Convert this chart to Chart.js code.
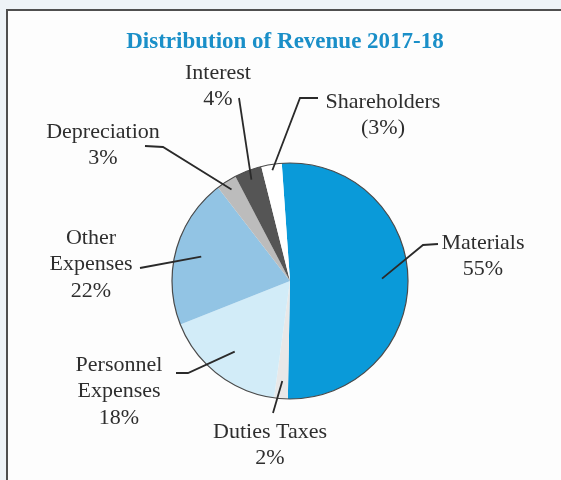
<!DOCTYPE html>
<html>
<head>
<meta charset="utf-8">
<title>Distribution of Revenue 2017-18</title>
<script src="https://cdn.jsdelivr.net/npm/chart.js@4.4.1/dist/chart.umd.min.js"></script>
<style>
  html, body { margin: 0; padding: 0; background: #eef3f7; }
  #wrap { position: relative; width: 561px; height: 480px; }
</style>
</head>
<body>
<div id="wrap"><canvas id="revChart"></canvas></div>
<script>
// share of revenue, clockwise from the top
var categories = ["Materials", "Duties Taxes", "Personnel Expenses", "Other Expenses", "Depreciation", "Interest", "Shareholders"];
var shares = [55, 2, 18, 22, 3, 4, 3];
var pctLabels = ["55%", "2%", "18%", "22%", "3%", "4%", "(3%)"];

var sliceColors = ['#0a9ad9', '#e8e8e8', '#d2ecf8', '#92c4e4', '#bcbcbc', '#555555', '#ffffff'];

var chartTitle = 'Distribution of Revenue 2017-18';

// where each caption sits and how its leader line bends
var callouts = [
  { lines: ["Materials", "55%"],               cx: 483, y: 243, r: 0.78, path: [[423, 245], [438, 244]] },
  { lines: ["Duties Taxes", "2%"],             cx: 270, y: 432, r: 0.85, path: [[273, 413]] },
  { lines: ["Personnel", "Expenses", "18%"],   cx: 119, y: 365, r: 0.76, path: [[188, 373], [176, 373]] },
  { lines: ["Other", "Expenses", "22%"],       cx: 91,  y: 238, r: 0.78, path: [[140, 268]] },
  { lines: ["Depreciation", "3%"],             cx: 103, y: 132, r: 0.92, path: [[163, 147], [145, 146]] },
  { lines: ["Interest", "4%"],                 cx: 218, y: 73,  r: 0.92, path: [[239, 98]] },
  { lines: ["Shareholders", "(3%)"],           cx: 383, y: 102, r: 0.95, path: [[300, 98], [318, 98]] }
];

var serif = "'Liberation Serif', 'Times New Roman', serif";

// page frame behind the chart
var framePlugin = {
  id: 'frame',
  beforeDraw: function(chart) {
    var c = chart.ctx;
    c.save();
    c.fillStyle = '#eef3f7';
    c.fillRect(0, 0, chart.width, chart.height);
    c.fillStyle = '#fdfdfd';
    c.fillRect(7, 10, chart.width - 7, chart.height - 10);
    c.strokeStyle = '#4f4f4f';
    c.lineWidth = 2;
    c.beginPath();
    c.moveTo(7, chart.height);
    c.lineTo(7, 10);
    c.lineTo(chart.width, 10);
    c.stroke();

    // heading (drawn by hand so it is not squeezed into the pie's width)
    c.fillStyle = '#1a8fc8';
    c.font = 'bold 23px ' + serif;
    c.textAlign = 'center';
    c.textBaseline = 'middle';
    c.fillText(chartTitle, 285, 42);
    c.restore();
  }
};

// outer rim, leader lines and captions
var calloutPlugin = {
  id: 'callouts',
  afterDatasetsDraw: function(chart) {
    var c = chart.ctx;
    var arcs = chart.getDatasetMeta(0).data;
    var a0 = arcs[0];
    c.save();
    c.strokeStyle = '#4a4a4a';
    c.lineWidth = 1.2;
    c.beginPath();
    c.arc(a0.x, a0.y, a0.outerRadius, 0, Math.PI * 2);
    c.stroke();

    c.strokeStyle = '#2a2a2a';
    c.lineWidth = 1.8;
    c.fillStyle = '#2e2e2e';
    c.font = '22px ' + serif;
    c.textAlign = 'center';
    c.textBaseline = 'middle';
    callouts.forEach(function(co, i) {
      var arc = arcs[i];
      var mid = (arc.startAngle + arc.endAngle) / 2;
      var rr = arc.outerRadius * co.r;
      c.beginPath();
      c.moveTo(arc.x + Math.cos(mid) * rr, arc.y + Math.sin(mid) * rr);
      co.path.forEach(function(p) { c.lineTo(p[0], p[1]); });
      c.stroke();
      co.lines.forEach(function(t, k) {
        var txt = (k === co.lines.length - 1) ? pctLabels[i] : t;
        c.fillText(txt, co.cx, co.y + k * 26.5);
      });
    });
    c.restore();
  }
};

var ctx = document.getElementById('revChart');
var revChart = new Chart(ctx, {
  type: 'pie',
  data: {
    labels: categories,
    datasets: [{
      data: shares,
      backgroundColor: sliceColors,
      borderWidth: 0,
      hoverOffset: 0
    }]
  },
  options: {
    responsive: true,
    maintainAspectRatio: false,
    animation: false,
    events: [],
    rotation: -4,
    layout: {
      padding: { left: 172, right: 153, top: 163, bottom: 81 }
    },
    plugins: {
      legend: { display: false },
      tooltip: { enabled: false },
      title: { display: false }
    }
  },
  plugins: [framePlugin, calloutPlugin]
});
</script>
</body>
</html>
